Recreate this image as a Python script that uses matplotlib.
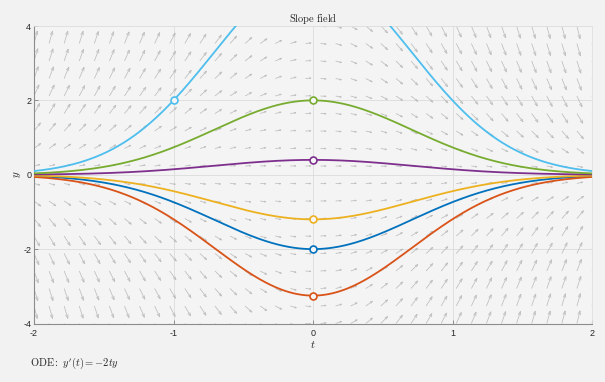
import numpy as np
import matplotlib
matplotlib.use('Agg')
import matplotlib.pyplot as plt
from matplotlib.collections import LineCollection

plt.rcParams['mathtext.fontset'] = 'cm'
plt.rcParams['font.family'] = ['Liberation Sans', 'DejaVu Sans']

# condições iniciais (t0, y0) de cada solução, na ordem de cores do MATLAB
t0_vals = [0.0, 0.0, 0.0, 0.0, 0.0, -1.0]
y0_vals = [-2.0, -3.25, -1.2, 0.4, 2.0, 2.0]
cores = ['#0072BD', '#D95319', '#EDB120', '#7E2F8E', '#77AC30', '#4DBEEE']

# grade do campo de direções
t_grade = np.linspace(-2, 2, 38)
y_grade = np.linspace(-4, 4, 18)

xticks = [-2, -1, 0, 1, 2]
yticks = [-4, -2, 0, 2, 4]


def f(t, y):
    return -2 * t * y


W, H = 605, 382
fig = plt.figure(figsize=(W / 100, H / 100), dpi=100, facecolor='#f2f2f2')
ax = fig.add_axes([34 / W, (H - 323.5) / H, 558 / W, 297.5 / H])
ax.set_facecolor('#f4f4f4')
ax.set_xlim(-2, 2)
ax.set_ylim(-4, 4)

# pixels por unidade
sx = 558 / 4
sy = 297.5 / 8

# campo de direções (setas em linhas, estilo quiver do MATLAB)
segs = []
T, Y = np.meshgrid(t_grade, y_grade)
for t, y in zip(T.ravel(), Y.ravel()):
    inc = f(t, y) * sy / sx
    n = np.hypot(1, inc)
    ux, uy = 1 / n, inc / n
    L = 5.5 + 8 * uy ** 2
    dx, dy = ux * L, uy * L
    tx, ty = t + dx / sx, y + dy / sy
    segs.append([(t, y), (tx, ty)])
    a, b = 0.3, 0.35
    for s in (1, -1):
        hx = dx - a * (dx + s * b * dy)
        hy = dy - a * (dy - s * b * dx)
        segs.append([(tx, ty), (t + hx / sx, y + hy / sy)])
ax.add_collection(LineCollection(segs, colors='#bdbdbd', linewidths=0.55, zorder=1))

# soluções y = y0 * exp(t0^2 - t^2)
tt = np.linspace(-2, 2, 400)
for t0, y0, c in zip(t0_vals, y0_vals, cores):
    yy = y0 * np.exp(t0 ** 2 - tt ** 2)
    ax.plot(tt, yy, color=c, lw=1.3, zorder=3)
for t0, y0, c in zip(t0_vals, y0_vals, cores):
    ax.plot(t0, y0, 'o', ms=5, mfc='#f6f6f6', mec=c, mew=1.2, zorder=4)

ax.set_xticks(xticks)
ax.set_xticklabels([str(v) for v in xticks])
ax.set_yticks(yticks)
ax.set_yticklabels([str(v) for v in yticks])
ax.tick_params(direction='in', length=3, width=0.6, color='#808080',
               labelsize=6.5, labelcolor='#262626', pad=4)
ax.tick_params(axis='y', pad=2)
ax.grid(True, color='#dcdcdc', lw=0.6, zorder=0)
ax.set_axisbelow(True)

for lado in ['left', 'bottom']:
    ax.spines[lado].set_color('#8c8c8c')
    ax.spines[lado].set_linewidth(0.8)
for lado in ['top', 'right']:
    ax.spines[lado].set_color('#e0e0e0')
    ax.spines[lado].set_linewidth(0.6)

ax.set_title(r'$\mathrm{Slope\ field}$', fontsize=7.5, pad=3, color='#262626')
ax.set_xlabel(r'$t$', fontsize=8, labelpad=1, color='#262626')
ax.set_ylabel(r'$y$', fontsize=8, labelpad=0, color='#262626')

fig.text(30 / W, (H - 366) / H, r"$\mathrm{ODE:}\ y'(t) = -2ty$",
         fontsize=7.5, ha='left', va='baseline', color='#262626')

fig.savefig('out.png', dpi=100, facecolor=fig.get_facecolor())
